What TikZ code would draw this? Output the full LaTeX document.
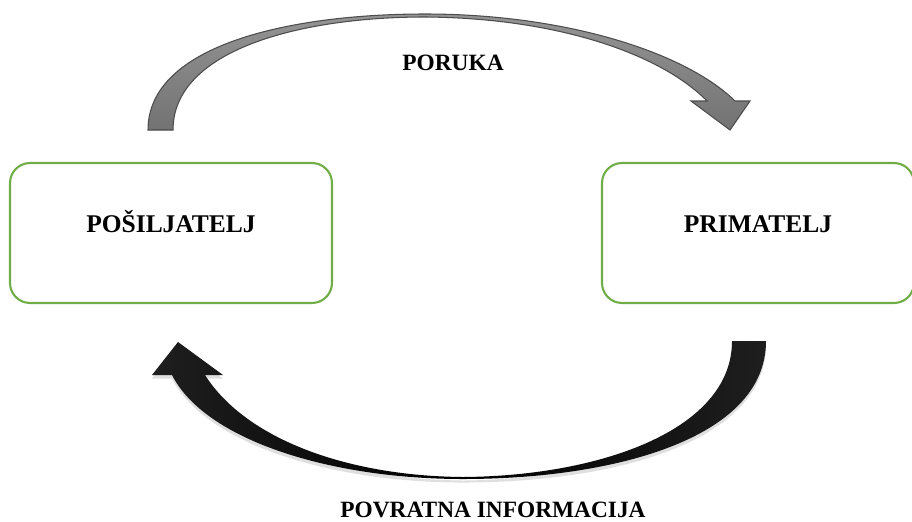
\documentclass[tikz,border=0pt]{standalone}
\usepackage{fontspec}
\setmainfont{Liberation Serif}
\usetikzlibrary{positioning,shadows}
\definecolor{boxgreen}{HTML}{70AD47}
\tikzset{node distance=5.36cm,
	party/.style={
		draw=boxgreen,
		line width=1.2pt,
		rounded corners=0.4cm,
		minimum height=2.8cm,
		inner sep=0pt,
		text height=0.34cm,
		text depth=0.36cm,
		font=\fontsize{14.5}{17}\selectfont\bfseries
	},
	msg/.style={
		font=\fontsize{13.3}{16}\selectfont\bfseries
	},
	message arrow/.style={
		draw=black!70,
		line width=0.6pt,
		top color=black!42,
		bottom color=black!55
	},
	feedback arrow/.style={
		left color=black!88,
		right color=black!88,
		middle color=black,
		drop shadow={opacity=0.25,shadow xshift=0pt,shadow yshift=-2pt}
	}
}

\begin{document}
\begin{tikzpicture}[x=0.02cm,y=-0.02cm]
	\useasboundingbox (0,0) rectangle (912,521);
	\node[party, minimum width=6.44cm] (posiljatelj) at (171,233) {POŠILJATELJ};
	\node[party, minimum width=6.24cm, right=of posiljatelj] (primatelj) {PRIMATELJ};
	% poruka
	\draw[message arrow] (148,130) .. controls (148,45) and (290,14) .. (425,14)
		.. controls (565,14) and (685,52) .. (735,101) -- (750,101) -- (730,130)
		-- (691,101) -- (707,101) .. controls (662,55) and (560,18) .. (425,17)
		.. controls (300,17) and (173,50) .. (173,130) -- cycle;
	\node[msg] (poruka) at (453,63) {PORUKA};
	% povratna informacija
	\path[feedback arrow] (766,341) .. controls (766,440) and (610,479) .. (463,479)
		.. controls (330,479) and (205,440) .. (172,375) -- (152,375) -- (178,342)
		-- (223,375) -- (205,375) .. controls (245,438) and (345,476) .. (463,477)
		.. controls (600,476) and (732,430) .. (732,341) -- cycle;
	\node[msg, anchor=base] (povratna) at (493,517) {POVRATNA INFORMACIJA};
\end{tikzpicture}
\end{document}
